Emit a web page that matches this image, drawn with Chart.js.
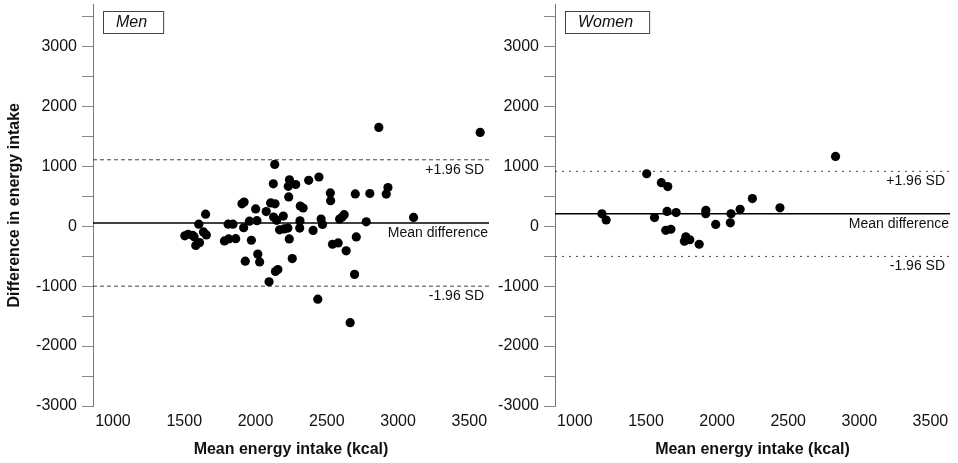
<!DOCTYPE html>
<html>
<head>
<meta charset="utf-8">
<script src="https://cdn.jsdelivr.net/npm/chart.js@4.4.0/dist/chart.umd.min.js"></script>
<style>
  body { margin: 0; background: #fff; }
  #wrap { position: relative; width: 958px; height: 463px; }
  #chartMen { position: absolute; left: 0; top: 0; }
  #chartWomen { position: absolute; left: 495px; top: 0; }
</style>
</head>
<body>
<div id="wrap">
  <canvas id="chartMen" width="495" height="463"></canvas>
  <canvas id="chartWomen" width="463" height="463"></canvas>
</div>
<script>
//---- Datos ----
const menMeanIntake = [1504, 1527, 1558, 1569, 1581, 1607, 1602, 1635, 1655, 1650,
    1782, 1812, 1808, 1842, 1861, 1905, 1920, 1917, 1957, 1971,
    2010, 2001, 1928, 2016, 2029, 2075, 2095, 2106, 2137, 2140,
    2157, 2125, 2135, 2127, 2195, 2148, 2169, 2200, 2227, 2237,
    2258, 2233, 2238, 2230, 2282, 2312, 2310, 2314, 2334, 2373,
    2404, 2445, 2460, 2470, 2437, 2525, 2527, 2540, 2580, 2590,
    2608, 2622, 2636, 2664, 2695, 2707, 2700, 2777, 2802, 2917,
    2929, 2865, 3109, 3576];
const menDiffIntake = [-160, -133, -150, -173, -320, -273, 35, -95, -145, 202,
    -245, -212, 35, 35, -207, 375, 405, -25, 85, -233,
    93, 290, -583, -465, -595, 245, -928, 390, 375, -755,
    -723, 708, 1033, 155, 170, 100, -60, -45, -30, -212,
    -540, 490, 775, 667, 697, 90, -30, 338, 305, 767,
    -70, 822, 120, 30, -1217, 557, 427, -300, -278, 120,
    155, 193, -410, -1610, -803, -178, 540, 75, 547, 538,
    647, 1650, 148, 1567];

const womenMeanIntake = [1190, 1220, 1505, 1560, 1608, 1653, 1648, 1712, 1639, 1675,
    1770, 1780, 1808, 1874, 1921, 1920, 1990, 2093, 2098, 2162,
    2248, 2442, 2833];
const womenDiffIntake = [208, 105, 877, 145, 727, 663, 248, 228, -67, -50,
    -250, -175, -225, -300, 266, 211, 30, 58, 208, 283,
    463, 308, 1165];

// media de diferencias y limites +-1.96 SD
const menLimits = [1110, 55, -1000];
const womenLimits = [917, 207, -503];
const limitLabels = ['+1.96 SD', 'Mean difference', '-1.96 SD'];

const xTicks = [1000, 1500, 2000, 2500, 3000, 3500];
const yTicks = [-3000, -2500, -2000, -1500, -1000, -500, 0, 500, 1000, 1500, 2000, 2500, 3000, 3500];
const xRange = [860, 3638];
const yRange = [-3000, 3700];

const fuente = "'Liberation Sans', Arial, sans-serif";

// Dibuja textos de las lineas y la caja con el titulo del panel
const panelPlugin = {
    id: 'panelText',
    afterDatasetsDraw(chart, args, opts) {
        const ctx = chart.ctx;
        const area = chart.chartArea;
        const y = chart.scales.y;
        ctx.save();
        ctx.fillStyle = '#111';
        ctx.font = `14px ${fuente}`;
        ctx.textAlign = 'right';
        ctx.textBaseline = 'middle';
        opts.limits.forEach((val, i) => {
            const off = i === 1 ? 1 : 5;
            ctx.fillText(limitLabels[i], area.right - off, y.getPixelForValue(val) + 10);
        });

        ctx.font = `italic 16px ${fuente}`;
        const w = ctx.measureText(opts.title).width;
        const bx = area.left + 10;
        ctx.strokeStyle = '#444';
        ctx.lineWidth = 1;
        ctx.strokeRect(bx + 0.5, 11.5, w + 29, 22);
        ctx.textAlign = 'left';
        ctx.fillText(opts.title, bx + 13, 23);
        ctx.restore();
    }
};

// quita el margen extra que Chart.js deja para las etiquetas de los extremos
const sinPadding = (scale) => {
    scale.paddingTop = 0;
    scale.paddingBottom = 0;
    scale.paddingLeft = 0;
    scale.paddingRight = 0;
};

const makeChart = (canvas, xs, ys, limits, title, axisWidth, showYTitle) => {
    const puntos = xs.map((x, i) => ({ x: x, y: ys[i] }));
    const linea = (v) => [{ x: xRange[0], y: v }, { x: xRange[1], y: v }];
    const dash = title === 'Men' ? [4, 3] : [2, 5];
    return new Chart(canvas, {
        type: 'scatter',
        data: {
            datasets: [
                {
                    data: puntos,
                    backgroundColor: '#000',
                    borderWidth: 0,
                    pointRadius: 4.6,
                    order: 0
                },
                {
                    type: 'line',
                    data: linea(limits[0]),
                    borderColor: '#444',
                    borderWidth: 1,
                    borderDash: dash,
                    pointRadius: 0,
                    order: 1
                },
                {
                    type: 'line',
                    data: linea(limits[1]),
                    borderColor: '#000',
                    borderWidth: 1.5,
                    pointRadius: 0,
                    order: 1
                },
                {
                    type: 'line',
                    data: linea(limits[2]),
                    borderColor: '#444',
                    borderWidth: 1,
                    borderDash: dash,
                    pointRadius: 0,
                    order: 1
                }
            ]
        },
        options: {
            responsive: false,
            animation: false,
            layout: { padding: { top: 3, right: title === 'Men' ? 6 : 8, left: 0, bottom: 0 } },
            plugins: {
                legend: { display: false },
                tooltip: { enabled: false },
                panelText: { limits: limits, title: title }
            },
            scales: {
                x: {
                    type: 'linear',
                    min: xRange[0],
                    max: xRange[1],
                    afterBuildTicks: (scale) => { scale.ticks = xTicks.map(v => ({ value: v })); },
                    afterFit: (scale) => { scale.height = 57; sinPadding(scale); },
                    grid: { display: true, drawOnChartArea: false, drawTicks: false },
                    border: { display: false },
                    ticks: {
                        padding: 6,
                        color: '#111',
                        font: { family: fuente, size: 16 },
                        callback: (v) => String(v)
                    },
                    title: {
                        display: true,
                        text: 'Mean energy intake (kcal)',
                        color: '#111',
                        font: { family: fuente, size: 16, weight: 'bold' },
                        padding: { top: 0, bottom: 4 }
                    }
                },
                y: {
                    type: 'linear',
                    min: yRange[0],
                    max: yRange[1],
                    afterBuildTicks: (scale) => { scale.ticks = yTicks.map(v => ({ value: v })); },
                    afterFit: (scale) => { scale.width = axisWidth; sinPadding(scale); },
                    grid: { drawOnChartArea: false, drawTicks: true, tickLength: 11, color: '#888' },
                    border: { display: true, color: '#777', width: 1 },
                    ticks: {
                        padding: 5,
                        color: '#111',
                        font: { family: fuente, size: 16 },
                        callback: (v) => (v % 1000 === 0 ? String(v) : '')
                    },
                    title: {
                        display: showYTitle,
                        text: 'Difference in energy intake',
                        color: '#111',
                        font: { family: fuente, size: 16, weight: 'bold' },
                        padding: { top: 5, bottom: 0 }
                    }
                }
            }
        },
        plugins: [panelPlugin]
    });
};

makeChart(document.querySelector('#chartMen'), menMeanIntake, menDiffIntake, menLimits, 'Men', 93, true);
makeChart(document.querySelector('#chartWomen'), womenMeanIntake, womenDiffIntake, womenLimits, 'Women', 60, false);
</script>
</body>
</html>
